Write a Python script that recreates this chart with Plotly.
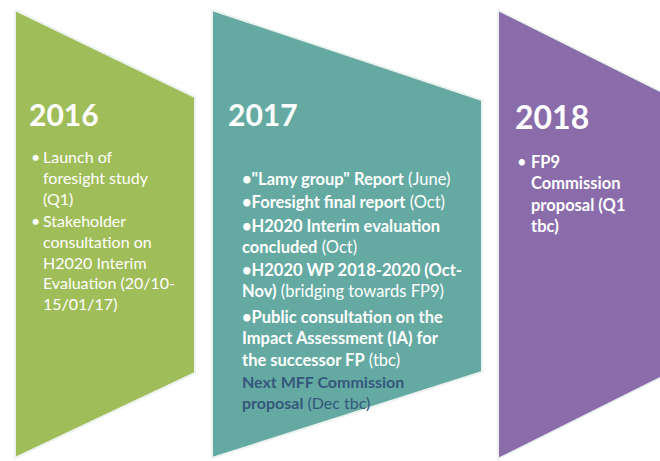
import plotly.graph_objects as go

# stage data
years = ["2016", "2017", "2018"]
fills = ["#9fbd58", "#64aaa2", "#8a6cab"]

bullets_2016 = [
    ["Launch of", "foresight study", "(Q1)"],
    ["Stakeholder", "consultation on", "H2020 Interim", "Evaluation (20/10-", "15/01/17)"],
]
bullets_2017 = [
    ['<b>•"Lamy group" Report</b> (June)'],
    ["<b>•Foresight final report</b> (Oct)"],
    ["<b>•H2020 Interim evaluation</b>", "<b>concluded</b> (Oct)"],
    ["<b>•H2020 WP 2018-2020 (Oct-</b>", "<b>Nov)</b> (bridging towards FP9)"],
    ["<b>•Public consultation on the</b>", "<b>Impact Assessment (IA) for</b>", "<b>the successor FP</b> (tbc)"],
]
mff_note = ["<b>Next MFF Commission</b>", "<b>proposal</b> (Dec tbc)"]
bullets_2018 = [
    ["FP9", "Commission", "proposal (Q1", "tbc)"],
]

# chevron outlines in pixel space: (left, right, top-left y, top-right y, bottom-right y, bottom-left y)
chevrons = [
    (15, 195, 10, 97, 373, 458),
    (212, 482, 10, 100, 372, 458),
    (498, 672, 10, 97, 372, 459),
]

fig = go.Figure()

for (x0, x1, ytl, ytr, ybr, ybl), col in zip(chevrons, fills):
    fig.add_trace(go.Scatter(
        x=[x0, x1, x1, x0, x0],
        y=[ytl, ytr, ybr, ybl, ytl],
        mode="lines", fill="toself", fillcolor=col,
        line=dict(color="#edf3f1", width=2),
        hoverinfo="skip", showlegend=False,
    ))

FONT = "Lato"

# year headings
heading_pos = [(27, 114, 30), (226, 114, 30), (513, 116, 32)]
for yr, (hx, hy, hs) in zip(years, heading_pos):
    fig.add_annotation(x=hx, y=hy, text="<b>%s</b>" % yr, showarrow=False,
                       xanchor="left", yanchor="middle",
                       font=dict(family=FONT, size=hs, color="white"))

def add_block(lines, x, y, size, color="white", bold=False, bullet_x=None):
    txt = "<br>".join(lines)
    if bold:
        txt = "<b>" + txt.replace("<br>", "</b><br><b>") + "</b>"
    fig.add_annotation(x=x, y=y, text=txt, showarrow=False, align="left",
                       xanchor="left", yanchor="top",
                       font=dict(family=FONT, size=size, color=color))
    if bullet_x is not None:
        fig.add_annotation(x=bullet_x, y=y, text="•", showarrow=False,
                           xanchor="left", yanchor="top",
                           font=dict(family=FONT, size=size, color=color))

# 2016 column
for lines, top in zip(bullets_2016, [145, 209]):
    add_block(lines, 41, top, 16, bullet_x=29)

# 2017 column
for lines, top in zip(bullets_2017, [167, 190, 214, 258, 305]):
    add_block(lines, 240, top, 16.5)
add_block(mff_note, 240, 370, 16, color="#35577c")

# 2018 column
add_block(bullets_2018[0], 529, 150, 16.5, bold=True, bullet_x=515)

fig.update_xaxes(range=[0, 660], visible=False, fixedrange=True)
fig.update_yaxes(range=[461, 0], visible=False, fixedrange=True)
fig.update_layout(width=660, height=461, margin=dict(l=0, r=0, t=0, b=0),
                  paper_bgcolor="white", plot_bgcolor="white")

fig.write_html("out.html", config={"displayModeBar": False},
               post_script="document.body.style.margin='0';")
